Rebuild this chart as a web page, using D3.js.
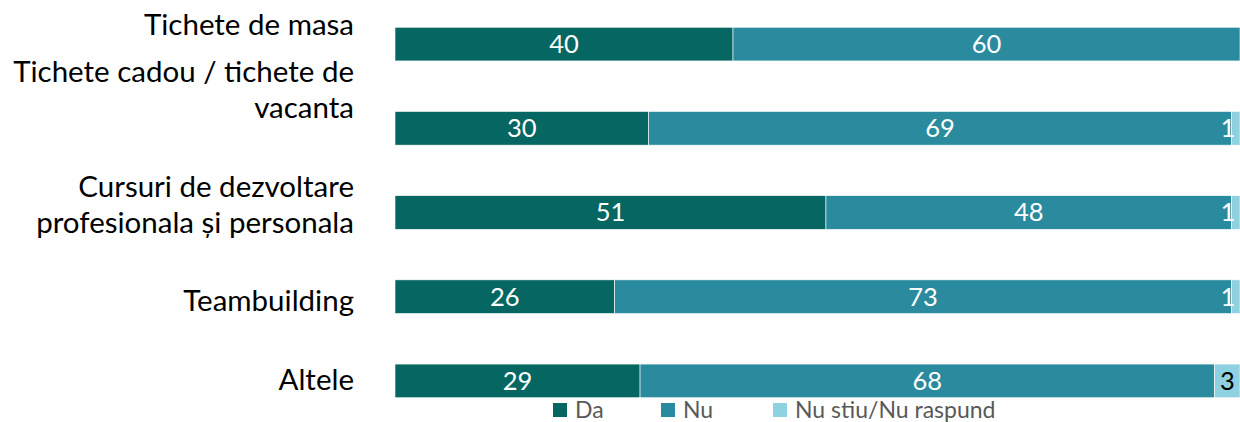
<!DOCTYPE html>
<meta charset="utf-8">
<style>
body { margin: 0; background: #fff; overflow: hidden; }
text { font-family: Lato, "Open Sans", sans-serif; }
</style>
<body>
<script src="https://cdn.jsdelivr.net/npm/d3@7"></script>
<script>
// data
var categories = [
  ["Tichete de masa"],
  ["Tichete cadou / tichete de", "vacanta"],
  ["Cursuri de dezvoltare", "profesionala și personala"],
  ["Teambuilding"],
  ["Altele"]
];
var da = [40, 30, 51, 26, 29];
var nu = [60, 69, 48, 73, 68];
var nsnr = [0, 1, 1, 1, 3];
var seriesNames = ["Da", "Nu", "Nu stiu/Nu raspund"];

var colors = ["#066661", "#2a8a9e", "#8ed1e0"];
var labelColors = ["#fff", "#fff", "#000"];

var width = 1240, height = 422;
var svg = d3.select("body").append("svg")
    .attr("width", width)
    .attr("height", height);

var rows = categories.map(function(c, i) {
  return { key: i, lines: c, vals: [da[i], nu[i], nsnr[i]] };
});

var x = d3.scaleLinear().domain([0, 100]).range([395, 1240]);
var y = d3.scaleBand().domain(d3.range(rows.length)).range([2, 423]).paddingInner(0.6).paddingOuter(0.3);

var stack = d3.stack().keys([0, 1, 2]).value(function(d, k) { return d.vals[k]; });
var layers = stack(rows);

var g = svg.selectAll(".layer")
  .data(layers)
  .enter().append("g")
    .attr("fill", function(d, i) { return colors[i]; });

g.selectAll("rect")
  .data(function(d) { return d; })
  .enter().append("rect")
    .attr("x", function(d) { return x(d[0]); })
    .attr("width", function(d) { return x(d[1]) - x(d[0]); })
    .attr("y", function(d) { return y(d.data.key); })
    .attr("height", y.bandwidth())
    .attr("stroke", "#fff")
    .attr("stroke-width", 0.6);

// value labels
layers.forEach(function(layer, li) {
  svg.append("g").selectAll("text")
    .data(layer.filter(function(d) { return d[1] - d[0] > 0; }))
    .enter().append("text")
      .attr("x", function(d) {
        var cx = (x(d[0]) + x(d[1])) / 2;
        return Math.min(cx, width - 12);
      })
      .attr("y", function(d) { return y(d.data.key) + y.bandwidth() / 2; })
      .attr("dy", "0.35em")
      .attr("text-anchor", "middle")
      .style("font-size", "25.5px")
      .style("fill", function(d) { return (d[1] - d[0] < 2) ? "#fff" : labelColors[li]; })
      .text(function(d) { return d[1] - d[0]; });
});

// category labels (Excel pushes the upper ones up a bit)
var labelShift = [-20, -39, -8, 4, -1.5];
var lineH = 36;
rows.forEach(function(r, i) {
  var n = r.lines.length;
  var cy = y(i) + y.bandwidth() / 2 + labelShift[i];
  var t = svg.append("text")
      .attr("text-anchor", "end")
      .style("font-size", "29.5px")
      .style("fill", "#000");
  r.lines.forEach(function(line, j) {
    t.append("tspan")
      .attr("x", 354)
      .attr("y", cy + (j - (n - 1) / 2) * lineH)
      .attr("dy", "0.36em")
      .text(line);
  });
});

// legend
var legX = [553, 661, 773];
var leg = svg.append("g").selectAll("g")
  .data(seriesNames)
  .enter().append("g")
    .attr("transform", function(d, i) { return "translate(" + legX[i] + ",403)"; });
leg.append("rect")
  .attr("width", 14).attr("height", 14)
  .attr("fill", function(d, i) { return colors[i]; });
leg.append("text")
  .attr("x", 22).attr("y", 15)
  .style("font-size", "23px")
  .style("fill", "#595959")
  .text(function(d) { return d; });
</script>
</body>
